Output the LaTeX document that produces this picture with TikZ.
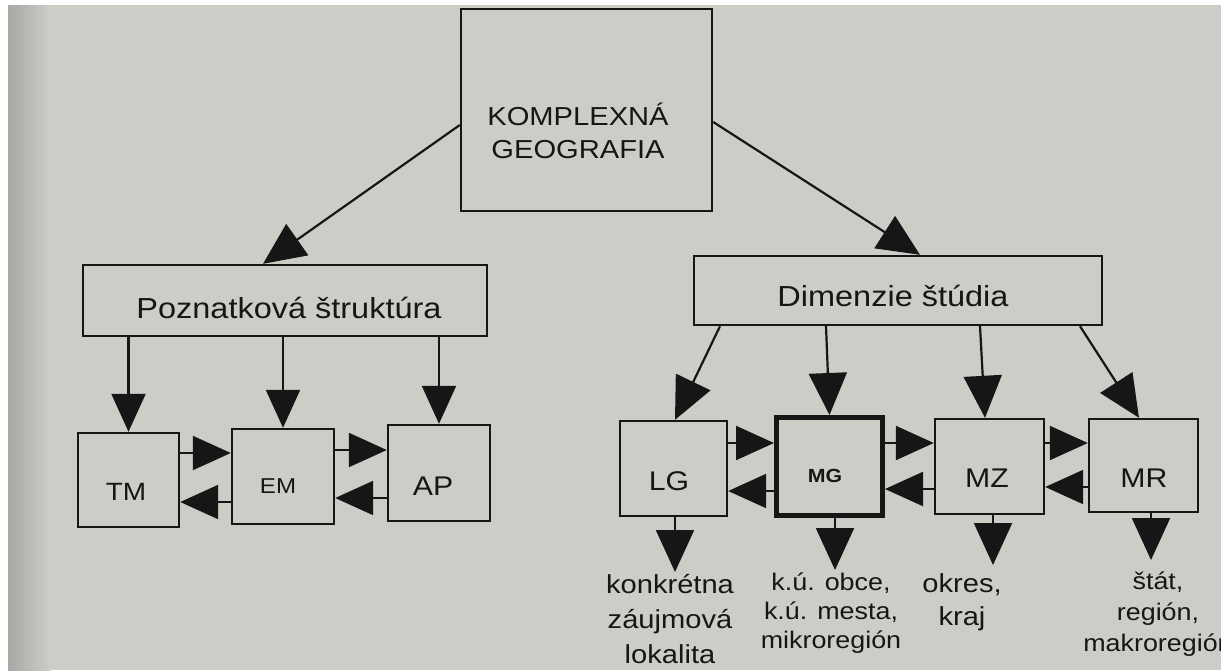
\documentclass[tikz,border=0pt]{standalone}
\usepackage{fontspec}
\setmainfont{Liberation Sans}[FakeStretch=1.12]
\usetikzlibrary{arrows.meta}
\definecolor{paper}{HTML}{CDCDC8}
\definecolor{paperdark}{HTML}{A8A8A4}
\definecolor{ink}{HTML}{161616}
\newcommand{\fsz}[2]{\fontsize{#1}{#2}\selectfont}
\begin{document}
\begin{tikzpicture}[x=1pt,y=-1pt,
  box/.style={draw=ink, line width=2.4pt, inner sep=0pt},
  thickbox/.style={draw=ink, line width=5pt, inner sep=0pt},
  txt/.style={text=ink, inner sep=0pt, align=center, anchor=base},
  arr/.style={draw=ink, line width=2.2pt, -{Triangle[length=38pt,width=34pt]}},
  darr/.style={draw=ink, line width=2.2pt, -{Triangle[length=42pt,width=38pt]}}]
\useasboundingbox (0,0) rectangle (1221,670);
\fill[white] (0,0) rectangle (1221,670);
\fill[paper] (8,5) rectangle (1221,670);
\shade[left color=paperdark, right color=paper] (8,5) rectangle (50,670);

% boxes
\node[box, minimum width=251pt, minimum height=202pt] (kg) at (586.5,110) {};
\node[box, minimum width=404pt, minimum height=71pt] (ps) at (285,300.5) {};
\node[box, minimum width=408pt, minimum height=69pt] (ds) at (898,290.5) {};
\node[box, minimum width=101pt, minimum height=94pt] (tm) at (128.5,480) {};
\node[box, minimum width=102pt, minimum height=95pt] (em) at (283,476.5) {};
\node[box, minimum width=102pt, minimum height=96pt] (ap) at (439,473) {};
\node[box, minimum width=107pt, minimum height=95pt] (lg) at (673.5,468.5) {};
\node[thickbox, minimum width=106pt, minimum height=98pt] (mg) at (829.5,466.5) {};
\node[box, minimum width=109pt, minimum height=95pt] (mz) at (989.5,466.5) {};
\node[box, minimum width=109pt, minimum height=93pt] (mr) at (1143.5,465.5) {};

% texts (anchor base = baseline of the last line)
\node[txt, font=\fsz{26}{33}] (kgt) at (578,158) {KOMPLEXNÁ\\GEOGRAFIA};
\node[txt, font=\fsz{29}{34}] (pst) at (289,318) {Poznatková štruktúra};
\node[txt, font=\fsz{29}{34}] (dst) at (893,306) {Dimenzie štúdia};
\node[txt, font=\fsz{25}{30}] (tmt) at (126,500) {TM};
\node[txt, font=\fsz{21.5}{26}] (emt) at (278,493) {EM};
\node[txt, font=\fsz{27}{32}] (apt) at (433,495) {AP};
\node[txt, font=\fsz{27}{32}] (lgt) at (669,490) {LG};
\node[txt, font=\bfseries\fsz{19}{23}] (mgt) at (825,482) {MG};
\node[txt, font=\fsz{27}{32}] (mzt) at (987,487) {MZ};
\node[txt, font=\fsz{27}{32}] (mrt) at (1144,487) {MR};

\node[txt, font=\fsz{26}{35}] (l1) at (670,663) {konkrétna\\záujmová\\lokalita};
\node[txt, font=\fsz{24}{29}] (l2) at (831,648) {k.ú. obce,\\k.ú. mesta,\\mikroregión};
\node[txt, font=\fsz{26}{33}] (l3) at (962,625) {okres,\\kraj};
\node[txt, font=\fsz{24}{31}] (l4) at (1158,651) {štát,\\región,\\makroregión};

% helper coordinates
\coordinate (y1) at (0,453);
\coordinate (y2) at (0,502);
\coordinate (y3) at (0,450);
\coordinate (y4) at (0,498);
\coordinate (r1) at (0,443);
\coordinate (r2) at (0,491);
\coordinate (r4) at (0,489);
\coordinate (r6) at (0,487);
\coordinate (lgT) at (675,572);
\coordinate (mgT) at (835,570);
\coordinate (mzT) at (993,565);
\coordinate (mrT) at (1151,560);

% connectors from the top box
\draw[darr] ([yshift=-15pt]kg.west) -- ([xshift=-22pt]ps.north);
\draw[darr] ([yshift=-12pt]kg.east) -- ([xshift=22pt]ds.north);

% left branch
\draw[arr] (tm.north |- ps.south) -- (tm.north);
\draw[arr] (em.north |- ps.south) -- (em.north);
\draw[arr] (ap.north |- ps.south) -- (ap.north);
\draw[arr] (tm.east |- y1) -- (em.west |- y1);
\draw[arr] (em.west |- y2) -- (tm.east |- y2);
\draw[arr] (em.east |- y3) -- (ap.west |- y3);
\draw[arr] (ap.west |- y4) -- (em.east |- y4);

% right branch
\draw[darr] ([xshift=-178pt]ds.south) -- ([xshift=1.5pt]lg.north);
\draw[darr] ([xshift=-72pt]ds.south) -- (mg.north);
\draw[darr] ([xshift=82pt]ds.south) -- ([xshift=-4.5pt]mz.north);
\draw[darr] ([xshift=182pt]ds.south) -- ([xshift=-4.5pt]mr.north);
\draw[arr] (lg.east |- r1) -- (mg.west |- r1);
\draw[arr] (mg.west |- r2) -- (lg.east |- r2);
\draw[arr] (mg.east |- r1) -- (mz.west |- r1);
\draw[arr] (mz.west |- r4) -- (mg.east |- r4);
\draw[arr] (mz.east |- r1) -- (mr.west |- r1);
\draw[arr] (mr.west |- r6) -- (mz.east |- r6);

% downward arrows to the labels
\draw[darr] (lgT |- lg.south) -- (lgT);
\draw[darr] (mgT |- mg.south) -- (mgT);
\draw[darr] (mzT |- mz.south) -- (mzT);
\draw[darr] (mrT |- mr.south) -- (mrT);
\end{tikzpicture}
\end{document}
